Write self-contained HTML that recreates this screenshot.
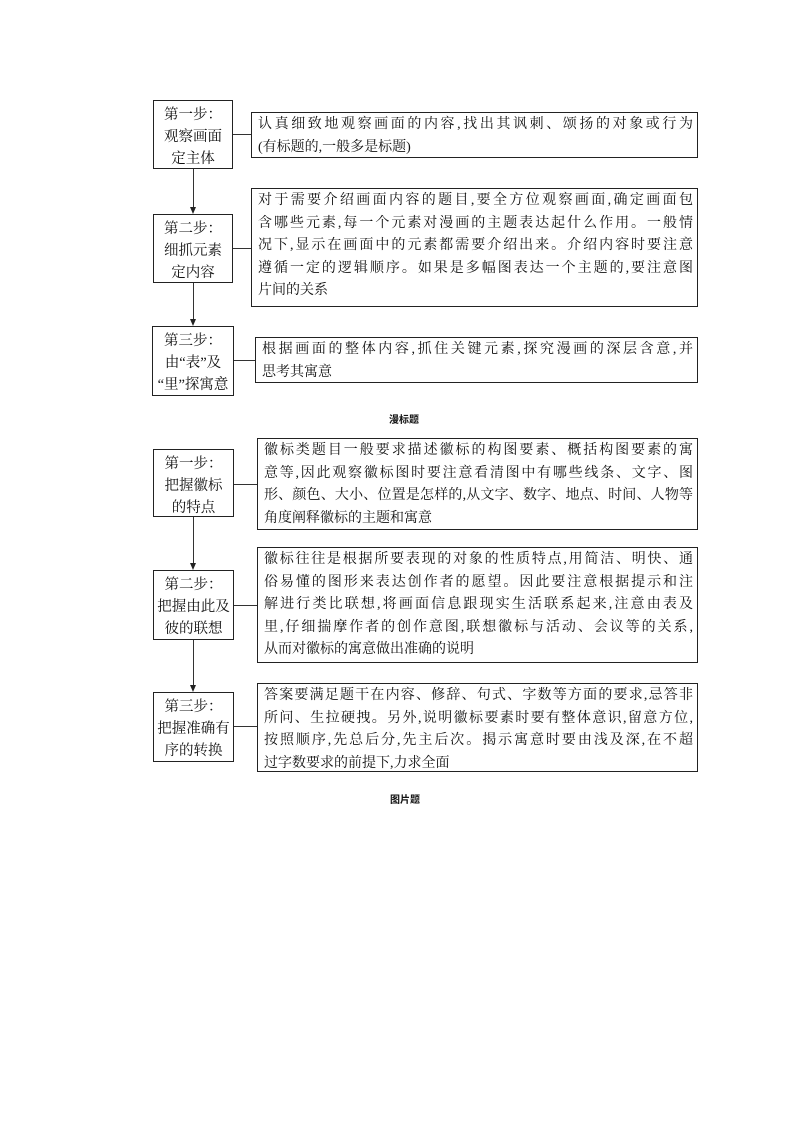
<!DOCTYPE html>
<html><head><meta charset="utf-8"><style>
body{margin:0;width:794px;height:1123px;background:#fff;position:relative;font-family:"Liberation Serif","Noto Serif CJK SC","Noto Sans CJK SC",serif;color:#111;}
.b{position:absolute;border:1.3px solid #222;box-sizing:border-box;}
.l{text-align:center;font-size:14.5px;line-height:22px;padding-top:3px;white-space:nowrap;}
.r{font-size:14px;line-height:22.5px;padding:1px 4px 0 6px;}
.r div{text-align:justify;text-align-last:justify;white-space:nowrap;}
.r div.e{text-align-last:left;}
.h{position:absolute;height:1px;background:#333;}
.v{position:absolute;width:1px;background:#333;}
.a{position:absolute;width:0;height:0;border-left:3px solid transparent;border-right:3px solid transparent;border-top:7px solid #222;}
.t{position:absolute;font-size:10px;font-weight:bold;font-family:"Noto Sans CJK SC",sans-serif;}
</style></head><body>

<div class="b l" style="left:153px;top:100px;width:80px;height:69px">第一步：<br>观察画面<br>定主体</div>
<div class="h" style="left:233px;top:134px;width:18px"></div>
<div class="b r" style="left:251px;top:112px;width:447px;height:46px"><div>认真细致地观察画面的内容,找出其讽刺、颂扬的对象或行为</div><div class="e">(有标题的,一般多是标题)</div></div>
<div class="v" style="left:193px;top:169px;height:39px"></div><div class="a" style="left:190px;top:207px"></div>

<div class="b l" style="left:153px;top:214px;width:80px;height:69px">第二步：<br>细抓元素<br>定内容</div>
<div class="h" style="left:233px;top:248px;width:18px"></div>
<div class="b r" style="left:251px;top:188px;width:447px;height:119px"><div>对于需要介绍画面内容的题目,要全方位观察画面,确定画面包</div><div>含哪些元素,每一个元素对漫画的主题表达起什么作用。一般情</div><div>况下,显示在画面中的元素都需要介绍出来。介绍内容时要注意</div><div>遵循一定的逻辑顺序。如果是多幅图表达一个主题的,要注意图</div><div class="e">片间的关系</div></div>
<div class="v" style="left:193px;top:283px;height:37px"></div><div class="a" style="left:190px;top:319px"></div>

<div class="b l" style="left:152px;top:326px;width:82px;height:70px">第三步：<br>由“表”及<br>“里”探寓意</div>
<div class="h" style="left:234px;top:360px;width:21px"></div>
<div class="b r" style="left:255px;top:337px;width:443px;height:46px"><div>根据画面的整体内容,抓住关键元素,探究漫画的深层含意,并</div><div class="e">思考其寓意</div></div>

<div class="t" style="left:389px;top:411px">漫标题</div>

<div class="b l" style="left:153px;top:449px;width:81px;height:68px">第一步：<br>把握徽标<br>的特点</div>
<div class="h" style="left:234px;top:484px;width:23px"></div>
<div class="b r" style="left:257px;top:438px;width:441px;height:92px"><div>徽标类题目一般要求描述徽标的构图要素、概括构图要素的寓</div><div>意等,因此观察徽标图时要注意看清图中有哪些线条、文字、图</div><div>形、颜色、大小、位置是怎样的,从文字、数字、地点、时间、人物等</div><div class="e">角度阐释徽标的主题和寓意</div></div>
<div class="v" style="left:193px;top:517px;height:47px"></div><div class="a" style="left:190px;top:563px"></div>

<div class="b l" style="left:153px;top:570px;width:81px;height:70px">第二步：<br>把握由此及<br>彼的联想</div>
<div class="h" style="left:234px;top:605px;width:23px"></div>
<div class="b r" style="left:257px;top:547px;width:441px;height:116px"><div>徽标往往是根据所要表现的对象的性质特点,用简洁、明快、通</div><div>俗易懂的图形来表达创作者的愿望。因此要注意根据提示和注</div><div>解进行类比联想,将画面信息跟现实生活联系起来,注意由表及</div><div>里,仔细揣摩作者的创作意图,联想徽标与活动、会议等的关系,</div><div class="e">从而对徽标的寓意做出准确的说明</div></div>
<div class="v" style="left:193px;top:640px;height:46px"></div><div class="a" style="left:190px;top:685px"></div>

<div class="b l" style="left:153px;top:692px;width:81px;height:70px">第三步：<br>把握准确有<br>序的转换</div>
<div class="h" style="left:234px;top:726px;width:23px"></div>
<div class="b r" style="left:257px;top:683px;width:441px;height:89px"><div>答案要满足题干在内容、修辞、句式、字数等方面的要求,忌答非</div><div>所问、生拉硬拽。另外,说明徽标要素时要有整体意识,留意方位,</div><div>按照顺序,先总后分,先主后次。揭示寓意时要由浅及深,在不超</div><div class="e">过字数要求的前提下,力求全面</div></div>

<div class="t" style="left:390px;top:791px">图片题</div>
</body></html>
